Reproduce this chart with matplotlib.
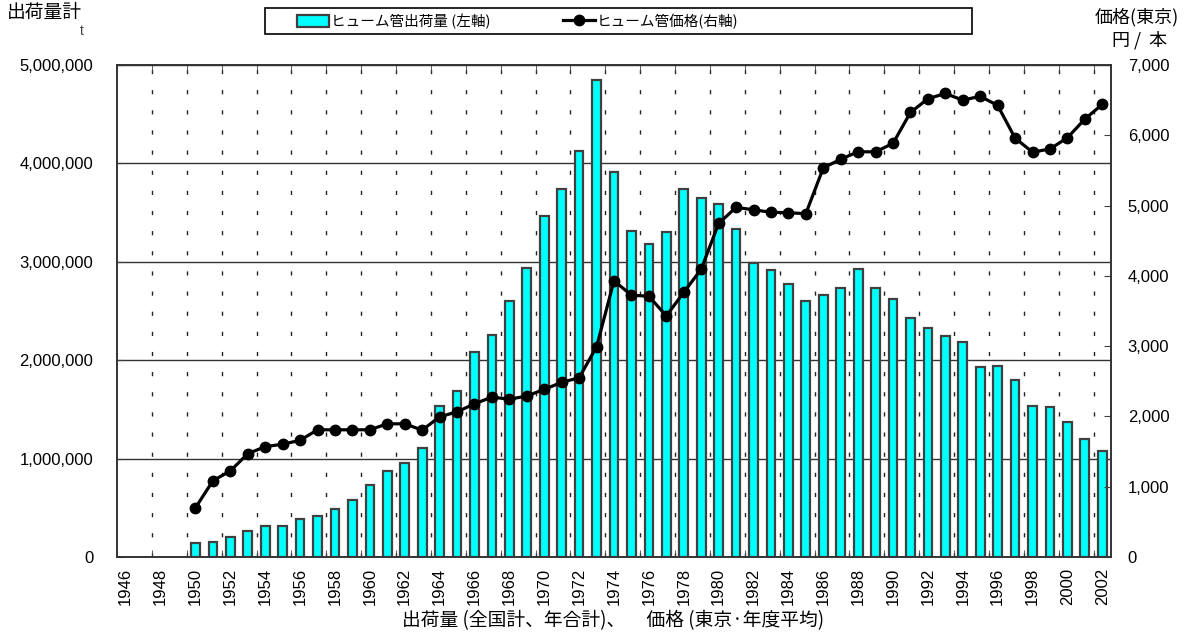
import matplotlib
matplotlib.use('Agg')
import matplotlib.pyplot as plt
from matplotlib.patches import Rectangle, Patch
from matplotlib.lines import Line2D
from matplotlib.ticker import FuncFormatter

plt.rcParams['font.family'] = ['Liberation Sans', 'Noto Sans CJK JP', 'DejaVu Sans']
JP = ['Noto Sans CJK JP', 'DejaVu Sans']

# ---- data ----
years = list(range(1950, 2003))

shipments_t = [
    140000, 150000, 200000, 265000, 310000, 310000, 385000, 420000, 490000, 580000,   # 1950-59
    730000, 875000, 955000, 1105000, 1535000, 1690000, 2085000, 2255000, 2605000, 2940000,  # 1960-69
    3470000, 3735000, 4130000, 4845000, 3915000, 3310000, 3180000, 3300000, 3735000, 3650000,  # 1970-79
    3585000, 3335000, 2990000, 2915000, 2770000, 2605000, 2665000, 2735000, 2925000, 2735000,  # 1980-89
    2620000, 2425000, 2325000, 2245000, 2190000, 1935000, 1945000, 1800000, 1530000, 1520000,  # 1990-99
    1370000, 1195000, 1075000,  # 2000-02
]

price_yen = [
    700, 1085, 1225, 1470, 1570, 1605, 1660, 1810, 1810, 1810,
    1810, 1895, 1895, 1805, 1995, 2065, 2180, 2275, 2245, 2290,
    2385, 2485, 2550, 2990, 3930, 3725, 3710, 3430, 3765, 4095,
    4745, 4975, 4940, 4905, 4898, 4885, 5535, 5660, 5765, 5765,
    5885, 6325, 6520, 6595, 6500, 6555, 6425, 5960, 5760, 5805,
    5965, 6230, 6440,
]

tick_years = list(range(1946, 2003, 2))
left_ticks = [0, 1000000, 2000000, 3000000, 4000000, 5000000]
right_ticks = [0, 1000, 2000, 3000, 4000, 5000, 6000, 7000]

legend_bar = 'ヒューム管出荷量 (左軸)'
legend_line = 'ヒューム管価格(右軸)'

# ---- figure ----
fig = plt.figure(figsize=(11.92, 6.38), dpi=100)
ax = fig.add_axes([117 / 1192, 1 - 557 / 638, (1111 - 117) / 1192, (557 - 65) / 638])

ax.bar(years, shipments_t, width=0.5, color='#00FFFF', edgecolor='#404040',
       linewidth=1.6, zorder=3)

ax.set_xlim(1945.5, 2002.5)
ax.set_ylim(0, 5000000)
ax.set_xticks(tick_years)
ax.set_xticklabels([str(y) for y in tick_years], rotation=90, fontsize=12)
ax.set_xticks([y + 1.5 for y in tick_years[:-1]], minor=True)
ax.set_yticks(left_ticks)
ax.yaxis.set_major_formatter(FuncFormatter(lambda v, p: f'{int(v):,}'))
ax.tick_params(axis='y', direction='in', length=5, labelsize=12, pad=17, color='#404040')
ax.tick_params(axis='x', which='major', length=0, pad=8)
ax.tick_params(axis='x', which='minor', direction='in', length=5, top=True, bottom=True, color='#404040')
ax.grid(axis='y', which='major', color='#333333', linewidth=1.0, linestyle='-')
ax.grid(axis='x', which='minor', color='#222222', linewidth=1.0, linestyle=(0, (3, 11.5)))
ax.set_axisbelow(True)
for sp in ax.spines.values():
    sp.set_color('#333333')
    sp.set_linewidth(1.2)

ax2 = ax.twinx()
ax2.plot(years, price_yen, color='black', linewidth=2.3, marker='o', markersize=7.5, zorder=4)
ax2.set_ylim(0, 7000)
ax2.set_yticks(right_ticks)
ax2.yaxis.set_major_formatter(FuncFormatter(lambda v, p: f'{int(v):,}'))
ax2.tick_params(axis='y', direction='in', length=5, labelsize=12, pad=12, color='#404040')
for sp in ax2.spines.values():
    sp.set_color('#333333')
    sp.set_linewidth(1.2)

# axis titles
fig.text(7 / 1192, 1 - 12 / 638, '出荷量計', family=JP, fontsize=13.5, va='center', ha='left')
fig.text(82 / 1192, 1 - 31 / 638, 't', fontsize=10, va='center', ha='center', color='#444444')
fig.text(1137 / 1192, 1 - 17 / 638, '価格(東京)', family=JP, fontsize=13, va='center', ha='center')
fig.text(1140 / 1192, 1 - 40 / 638, '円 /  本', family=JP, fontsize=13, va='center', ha='center')
fig.text(613 / 1192, 1 - 621 / 638, '出荷量 (全国計、年合計)、     価格 (東京·年度平均)',
         family=JP, fontsize=13.5, va='center', ha='center')

# legend with a rectangular frame
fig.add_artist(Rectangle((265 / 1192, 1 - 34 / 638), (972 - 265) / 1192, 26 / 638,
                         transform=fig.transFigure, fill=False, edgecolor='black', linewidth=1.2))
handles = [Patch(facecolor='#00FFFF', edgecolor='#404040', linewidth=1.6),
           Line2D([], [], color='black', linewidth=2.3, marker='o', markersize=7.5)]
fig.legend(handles, [legend_bar, legend_line], loc='center left',
           bbox_to_anchor=(290 / 1192, 1 - 21 / 638), ncol=2, frameon=False,
           prop={'family': JP, 'size': 10.5}, handlelength=2.2, handleheight=0.9,
           handletextpad=0.1, columnspacing=5.0, borderpad=0)

fig.savefig('out.png', dpi=100)
